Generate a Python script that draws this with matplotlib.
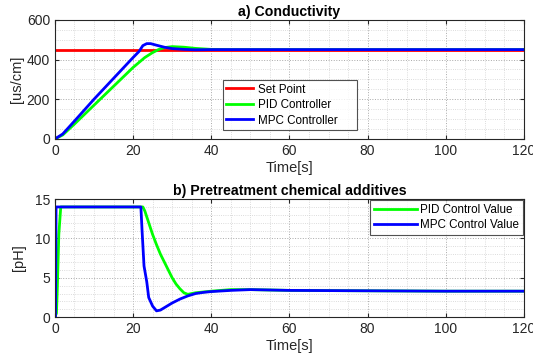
import matplotlib.pyplot as plt
import numpy as np
from matplotlib.ticker import MultipleLocator

plt.rcParams["font.family"] = ["Liberation Sans", "DejaVu Sans"]

# a) conductivity [us/cm]
t_sp = [0, 120]
setpoint = [450, 450]

t_pid = [0, 2, 5, 10, 15, 20, 23, 25, 26.5, 28, 30, 33, 36, 40, 45, 120]
pid = [0, 20, 75, 170, 265, 360, 410, 435, 450, 460, 465, 462, 456, 451, 450, 450]

t_mpc = [0, 2, 5, 10, 15, 20, 21.5, 22.5, 23.5, 24.5, 26, 28, 30, 33, 36, 40, 120]
mpc = [0, 25, 90, 200, 305, 410, 440, 470, 480, 480, 472, 462, 455, 451, 449, 450, 450]

# b) chemical additives [pH]
t_pidc = [0, 0.4, 0.6, 1.0, 1.5, 22.5, 23, 24, 25, 26, 27, 28, 29, 30, 31, 32, 33, 34,
          36, 40, 45, 50, 60, 80, 100, 120]
pidc = [0, 0.5, 3.4, 10.5, 14, 14, 13.5, 12, 10.5, 9.2, 8, 7, 6, 5, 4.2, 3.6, 3.1, 2.9,
        3.1, 3.3, 3.5, 3.5, 3.4, 3.35, 3.3, 3.3]

t_mpcc = [0, 0.15, 0.3, 22, 22.3, 22.8, 23.5, 24, 25, 26, 27, 28, 30, 32, 34, 36,
          38, 40, 45, 50, 60, 80, 100, 120]
mpcc = [0, 0, 14, 14, 11, 6.5, 4.5, 2.5, 1.4, 0.8, 0.9, 1.2, 1.8, 2.3, 2.7, 3.0,
        3.15, 3.25, 3.4, 3.5, 3.4, 3.35, 3.3, 3.3]

fig = plt.figure(figsize=(5.33, 3.6), dpi=100)
ax1 = fig.add_axes([0.103, 0.614, 0.880, 0.331])
ax2 = fig.add_axes([0.103, 0.119, 0.880, 0.328])


def style(ax):
    ax.set_xlim(0, 120)
    ax.xaxis.set_major_locator(MultipleLocator(20))
    ax.xaxis.set_minor_locator(MultipleLocator(5))
    ax.grid(True, which="major", linestyle=":", color="#a8a8a8", linewidth=0.7)
    ax.grid(True, which="minor", linestyle=":", color="#d0d0d0", linewidth=0.6)
    ax.tick_params(which="both", direction="in", top=True, right=True,
                   labelsize=10, colors="#262626", length=3)
    ax.tick_params(which="minor", length=0)
    for s in ax.spines.values():
        s.set_color("#262626")
        s.set_linewidth(0.8)
    ax.set_xlabel("Time[s]", fontsize=10.5, color="#262626", labelpad=2)


ax1.plot(t_sp, setpoint, color="#ff0000", lw=2, label="Set Point")
ax1.plot(t_pid, pid, color="#00ff00", lw=2, label="PID Controller")
ax1.plot(t_mpc, mpc, color="#0000ff", lw=2, label="MPC Controller")
style(ax1)
ax1.set_ylim(0, 600)
ax1.yaxis.set_major_locator(MultipleLocator(200))
ax1.yaxis.set_minor_locator(MultipleLocator(50))
ax1.set_ylabel("[us/cm]", fontsize=10.5, color="#262626", labelpad=2)
ax1.set_title("a) Conductivity", fontsize=10.2, fontweight="bold", pad=3)
leg1 = ax1.legend(loc="lower left", bbox_to_anchor=(0.358, 0.075, 0.286, 0.394),
                  mode="expand", fontsize=8.4, frameon=True, fancybox=False,
                  edgecolor="#262626", borderaxespad=0, handlelength=2.3,
                  handletextpad=0.4, borderpad=0.3, labelspacing=0.3)
leg1.get_frame().set_linewidth(0.8)

ax2.plot(t_pidc, pidc, color="#00ff00", lw=2, label="PID Control Value")
ax2.plot(t_mpcc, mpcc, color="#0000ff", lw=2, label="MPC Control Value")
style(ax2)
ax2.set_ylim(0, 15)
ax2.yaxis.set_major_locator(MultipleLocator(5))
ax2.yaxis.set_minor_locator(MultipleLocator(1))
ax2.set_ylabel("[pH]", fontsize=10.5, color="#262626", labelpad=6)
ax2.set_title("b) Pretreatment chemical additives", fontsize=10.2,
              fontweight="bold", pad=3)
leg2 = ax2.legend(loc="upper right", fontsize=8.4, frameon=True, fancybox=False,
                  edgecolor="#262626", borderaxespad=0.1, handlelength=3.7,
                  handletextpad=0.3, borderpad=0.3, labelspacing=0.3)
leg2.get_frame().set_linewidth(0.8)

fig.savefig("out.png", dpi=100)
